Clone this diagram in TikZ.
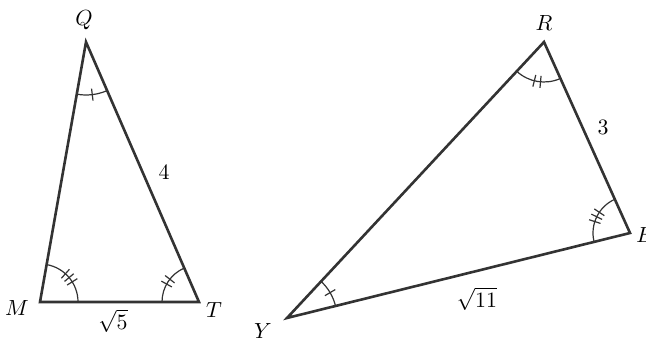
\documentclass[tikz,border=0pt]{standalone}
\usepackage{amsmath}
\usepackage{tikz}
\usetikzlibrary{calc,positioning}
\definecolor{trazo}{rgb}{0.2,0.2,0.2}
\tikzset{
  lado/.style={
    draw=trazo,
    line width=1.3pt,
    line join=miter
  },
  marca/.style={
    draw=trazo,
    line width=0.6pt
  },
  vertice/.style={
    font=\fontsize{11}{13}\selectfont,
    inner sep=1pt
  },
  medida/.style={
    font=\fontsize{11}{13}\selectfont,
    inner sep=1pt
  }
}

\begin{document}
\begin{tikzpicture}[x=0.5pt,y=0.5pt]
\useasboundingbox (0,0) rectangle (646,341);
% triangulo QMT
\coordinate (Q) at (86,299);
\coordinate (M) at (40,39);
\coordinate (T) at (199,39);
\draw[lado] (M) -- (Q) -- (T) -- cycle;
\node[vertice] (lq) at (84,321) {$Q$};
\node[vertice] (lm) at (17,33) {$M$};
\node[vertice] (lt) at (214,31) {$T$};
\node[medida] (l4) at (164,169) {$4$};
\node[medida] (l5) at (113,20) {$\sqrt{5}$};
% angulos
\draw[marca] ([shift={(260:53)}]Q) arc[start angle=260, end angle=293.5, radius=53];
\draw[marca] ([shift={(276.8:47)}]Q) -- ([shift={(276.8:59)}]Q);
\draw[marca] ([shift={(0:38)}]M) arc[start angle=0, end angle=80, radius=38];
\foreach \a in {32,40,48}
  \draw[marca] ([shift={(\a:32)}]M) -- ([shift={(\a:44)}]M);
\draw[marca] ([shift={(113.5:37)}]T) arc[start angle=113.5, end angle=180, radius=37];
\foreach \a in {142,151}
  \draw[marca] ([shift={(\a:31)}]T) -- ([shift={(\a:43)}]T);

% triangulo RYE
\coordinate (R) at (544,299);
\coordinate (E) at (630,108);
\coordinate (Y) at (287,23);
\draw[lado] (Y) -- (R) -- (E) -- cycle;
\node[vertice] (lr) at (544,318) {$R$};
\node[vertice, anchor=west] (le) at (634,106) {$E$};
\node[vertice] (ly) at (263,10) {$Y$};
\node[medida] (l3) at (603,214) {$3$};
\node[medida] (l11) at (477,42) {$\sqrt{11}$};
% angulos
\draw[marca] ([shift={(227:40)}]R) arc[start angle=227, end angle=294.2, radius=40];
\foreach \a in {256,265}
  \draw[marca] ([shift={(\a:34)}]R) -- ([shift={(\a:46)}]R);
\draw[marca] ([shift={(114.2:37)}]E) arc[start angle=114.2, end angle=193.9, radius=37];
\foreach \a in {146,154,162}
  \draw[marca] ([shift={(\a:31)}]E) -- ([shift={(\a:43)}]E);
\draw[marca] ([shift={(13.9:50)}]Y) arc[start angle=13.9, end angle=47, radius=50];
\draw[marca] ([shift={(30.5:44)}]Y) -- ([shift={(30.5:56)}]Y);
\end{tikzpicture}
\end{document}
